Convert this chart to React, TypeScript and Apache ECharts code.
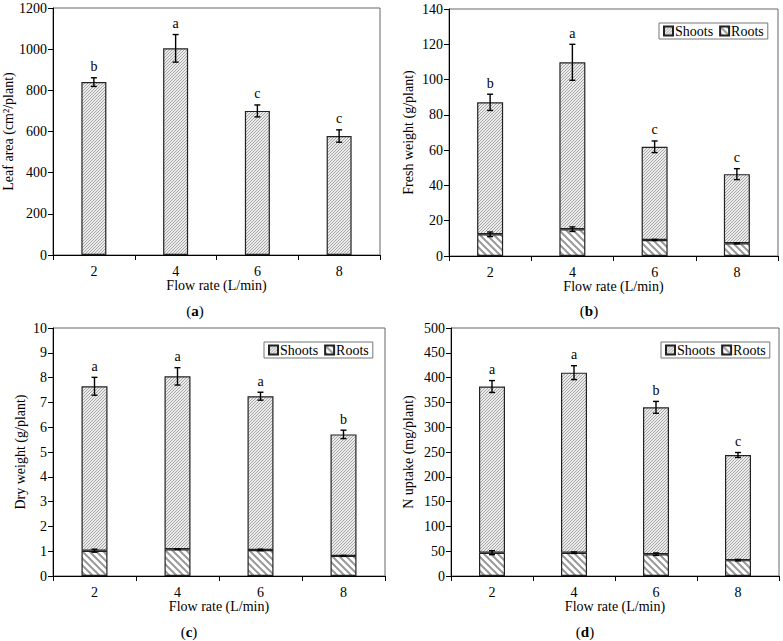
import React, { useEffect, useRef } from 'react';
import * as echarts from 'echarts';

// ---- data ----
const flowRates = ['2', '4', '6', '8'];

const leafArea = [840, 1004, 700, 578];
const leafAreaErr = [21, 67, 29, 30];
const leafAreaLetters = ['b', 'a', 'c', 'c'];

const freshShoots = [74.8, 94.6, 52.8, 39.2];
const freshRoots = [12.3, 15.2, 9.1, 7.2];
const freshTotalErr = [4.6, 10.2, 3.3, 3.1];
const freshRootsErr = [1.3, 1.3, 0.3, 0.3];
const freshLetters = ['b', 'a', 'c', 'c'];

const dryShoots = [6.63, 6.97, 6.2, 4.9];
const dryRoots = [1.02, 1.08, 1.05, 0.81];
const dryTotalErr = [0.36, 0.35, 0.16, 0.17];
const dryRootsErr = [0.06, 0.01, 0.03, 0.02];
const dryLetters = ['a', 'a', 'a', 'b'];

const nShoots = [335, 363, 296, 212];
const nRoots = [47, 47, 44, 32];
const nTotalErr = [12, 14, 12, 5];
const nRootsErr = [4, 1.5, 2.5, 1.5];
const nLetters = ['a', 'a', 'b', 'c'];

const FONT = "'Liberation Serif', 'Times New Roman', serif";

function hatch(bg: string, fg: string, size: number, lw: number, dir: 'fwd' | 'back') {
  const c = document.createElement('canvas');
  c.width = size;
  c.height = size;
  const ctx = c.getContext('2d')!;
  ctx.fillStyle = bg;
  ctx.fillRect(0, 0, size, size);
  ctx.strokeStyle = fg;
  ctx.lineWidth = lw;
  for (const k of [-size, 0, size]) {
    ctx.beginPath();
    if (dir === 'fwd') {
      ctx.moveTo(k - 1, size + 1);
      ctx.lineTo(k + size + 1, -1);
    } else {
      ctx.moveTo(k - 1, -1);
      ctx.lineTo(k + size + 1, size + 1);
    }
    ctx.stroke();
  }
  return { image: c, repeat: 'repeat' } as any;
}

function errRender(letters: string[] | null) {
  return (params: any, api: any) => {
    const idx = api.value(0);
    const v = api.value(1);
    const e = api.value(2);
    const top = api.coord([idx, v + e]);
    const bot = api.coord([idx, v - e]);
    const x = top[0];
    const cap = 3;
    const st = { stroke: '#000', lineWidth: 1.4 };
    const children: any[] = [
      { type: 'line', shape: { x1: x, y1: top[1], x2: x, y2: bot[1] }, style: st },
      { type: 'line', shape: { x1: x - cap, y1: top[1], x2: x + cap, y2: top[1] }, style: st },
      { type: 'line', shape: { x1: x - cap, y1: bot[1], x2: x + cap, y2: bot[1] }, style: st },
    ];
    if (letters) {
      children.push({
        type: 'text',
        style: {
          x,
          y: top[1] - 4,
          text: letters[params.dataIndex],
          fontFamily: FONT,
          fontSize: 14,
          fill: '#000',
          align: 'center',
          verticalAlign: 'bottom',
        },
      });
    }
    return { type: 'group', children };
  };
}

export default function App() {
  const ref = useRef<HTMLDivElement>(null);
  useEffect(() => {
    if (!ref.current) return;
    const chart = echarts.init(ref.current, undefined, { renderer: 'svg' });

    const shootFill = hatch('#ececec', '#a6a6a6', 3, 1, 'fwd');
    const rootFill = hatch('#ffffff', '#999999', 7, 2, 'back');
    const border = { borderColor: '#222', borderWidth: 1.2 };

    const grids = [
      { left: 53, top: 8, width: 327, height: 247 },
      { left: 449, top: 9, width: 329, height: 247 },
      { left: 53, top: 328, width: 332, height: 248 },
      { left: 451, top: 328, width: 328, height: 248 },
    ].map((g) => ({ ...g, show: true, borderColor: '#666', borderWidth: 1, backgroundColor: 'transparent' }));

    const yNames = ['Leaf area (cm²/plant)', 'Fresh weight (g/plant)', 'Dry weight (g/plant)', 'N uptake (mg/plant)'];
    const yMax = [1200, 140, 10, 500];
    const yInt = [200, 20, 1, 50];
    const yGap = [36, 34, 26, 36];

    const axisText = { fontFamily: FONT, fontSize: 14, color: '#000' };

    const xAxis = grids.map((_, i) => ({
      type: 'category',
      gridIndex: i,
      data: flowRates,
      boundaryGap: true,
      axisLine: { lineStyle: { color: '#000', width: 1 } },
      axisTick: { show: true, inside: false, length: 5, alignWithLabel: false, lineStyle: { color: '#000' } },
      axisLabel: { ...axisText, margin: 9 },
      name: 'Flow rate (L/min)',
      nameLocation: 'middle',
      nameGap: 20,
      nameTextStyle: { ...axisText },
    }));

    const yAxis = grids.map((_, i) => ({
      type: 'value',
      gridIndex: i,
      min: 0,
      max: yMax[i],
      interval: yInt[i],
      splitLine: { show: false },
      axisLine: { show: true, lineStyle: { color: '#000', width: 1 } },
      axisTick: { show: true, inside: false, length: 5, lineStyle: { color: '#000' } },
      axisLabel: { ...axisText, margin: 6, formatter: (v: number) => String(v) },
      name: yNames[i],
      nameLocation: 'middle',
      nameGap: yGap[i],
      nameTextStyle: { ...axisText },
    }));

    const series: any[] = [];
    // (a)
    series.push({
      type: 'bar',
      name: 'Leaf area',
      xAxisIndex: 0,
      yAxisIndex: 0,
      data: leafArea,
      barWidth: 25,
      itemStyle: { color: shootFill, ...border },
    });
    series.push({
      type: 'custom',
      xAxisIndex: 0,
      yAxisIndex: 0,
      z: 10,
      renderItem: errRender(leafAreaLetters),
      data: leafArea.map((v, i) => [i, v, leafAreaErr[i]]),
    });

    const stacked = [
      { s: freshShoots, r: freshRoots, te: freshTotalErr, re: freshRootsErr, l: freshLetters },
      { s: dryShoots, r: dryRoots, te: dryTotalErr, re: dryRootsErr, l: dryLetters },
      { s: nShoots, r: nRoots, te: nTotalErr, re: nRootsErr, l: nLetters },
    ];
    stacked.forEach((d, k) => {
      const gi = k + 1;
      series.push({
        type: 'bar',
        name: 'Roots',
        stack: 'st' + gi,
        xAxisIndex: gi,
        yAxisIndex: gi,
        data: d.r,
        barWidth: 26,
        itemStyle: { color: rootFill, ...border },
      });
      series.push({
        type: 'bar',
        name: 'Shoots',
        stack: 'st' + gi,
        xAxisIndex: gi,
        yAxisIndex: gi,
        data: d.s,
        barWidth: 26,
        itemStyle: { color: shootFill, ...border },
      });
      series.push({
        type: 'custom',
        xAxisIndex: gi,
        yAxisIndex: gi,
        z: 10,
        renderItem: errRender(null),
        data: d.r.map((v, i) => [i, v, d.re[i]]),
      });
      series.push({
        type: 'custom',
        xAxisIndex: gi,
        yAxisIndex: gi,
        z: 10,
        renderItem: errRender(d.l),
        data: d.r.map((v, i) => [i, v + d.s[i], d.te[i]]),
      });
    });

    const legendPos = [
      { left: 659, top: 23 },
      { left: 264, top: 342 },
      { left: 661, top: 342 },
    ];
    const legend = legendPos.map((p) => ({
      ...p,
      data: ['Shoots', 'Roots'],
      orient: 'horizontal',
      icon: 'rect',
      itemWidth: 9,
      itemHeight: 9,
      itemGap: 6,
      padding: [1, 4, 1, 4],
      borderColor: '#777',
      borderWidth: 1,
      selectedMode: false,
      textStyle: { fontFamily: FONT, fontSize: 14, color: '#000', padding: [0, 0, 0, -3] },
    }));

    const caps = [
      { t: 'a', x: 195, y: 311 },
      { t: 'b', x: 589, y: 311 },
      { t: 'c', x: 189, y: 632 },
      { t: 'd', x: 585, y: 632 },
    ];
    const graphic = caps.map((c) => ({
      type: 'text',
      x: c.x,
      y: c.y,
      style: {
        text: '({b|' + c.t + '})',
        fontFamily: FONT,
        fontSize: 15,
        fill: '#000',
        align: 'center',
        verticalAlign: 'middle',
        rich: { b: { fontWeight: 'bold', fontFamily: FONT, fontSize: 15 } },
      },
    }));

    chart.setOption({
      animation: false,
      backgroundColor: '#fff',
      grid: grids,
      xAxis,
      yAxis,
      legend,
      series,
      graphic,
    });
    return () => chart.dispose();
  }, []);
  return <div ref={ref} style={{ position: 'fixed', left: 0, top: 0, width: 783, height: 641 }} />;
}
